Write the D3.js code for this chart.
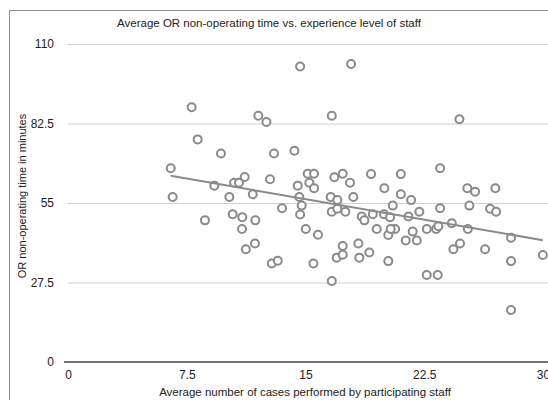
<!DOCTYPE html>
<html>
<head>
<meta charset="utf-8">
<script src="https://cdn.jsdelivr.net/npm/d3@7"></script>
<style>
  body { margin: 0; background: #fff; }
  svg text { font-family: "Liberation Sans", Arial, Helvetica, sans-serif; fill: #222; }
  .grid line { stroke: #d0d0d0; stroke-width: 1; }
  .dot { fill: #fff; stroke: #8a8a8a; stroke-width: 2; }
  .trend { stroke: #8a8a8a; stroke-width: 2; fill: none; }
</style>
</head>
<body>
<div id="chart"></div>
<script>
// chart text
var chartTitle = "Average OR non-operating time vs. experience level of staff";
var xTitle = "Average number of cases performed by participating staff";
var yTitle = "OR non-operating time in minutes";

var xTicks = [0, 7.5, 15, 22.5, 30];
var yTicks = [0, 27.5, 55, 82.5, 110];

// average cases per staff (x) and non-operating time (y)
var casesAvg = [
  7.81, 8.19, 9.66, 6.49, 9.24, 6.61, 10.19, 10.49, 10.8, 11.16,
  8.65, 10.4, 11.01, 10.99, 11.23, 11.67, 11.83, 11.81, 12.02, 12.53,
  13.01, 14.3, 12.76, 13.52, 12.87, 13.25, 14.66, 17.88, 16.66, 15.14,
  15.54, 14.51, 15.24, 15.54, 14.61, 14.76, 14.66, 15.02, 15.79, 15.5,
  16.82, 17.35, 17.81, 16.59, 17.01, 18.02, 16.66, 17.01, 17.52, 16.66,
  17.35, 16.97, 17.35, 18.34, 18.4, 19.03, 19.14, 19.98, 18.55, 18.72,
  19.25, 19.5, 19.96, 20.34, 20.51, 20.23, 20.66, 20.23, 24.72, 21.02,
  23.5, 25.22, 25.71, 26.99, 21.02, 21.67, 22.19, 23.5, 25.35, 26.66,
  27.04, 21.5, 21.77, 21.33, 22.03, 22.66, 23.25, 23.39, 24.24, 25.25,
  24.34, 24.76, 26.34, 27.98, 27.98, 29.99, 22.66, 23.35, 27.98, 20.38
];
var nonOpTime = [
  88.1, 77.0, 72.1, 67.0, 61.0, 57.1, 57.1, 62.0, 62.0, 64.0,
  49.0, 51.1, 50.1, 46.0, 39.0, 58.0, 49.0, 41.0, 85.2, 83.0,
  72.1, 73.1, 63.2, 53.2, 34.1, 35.0, 102.2, 103.1, 85.2, 65.1,
  65.1, 61.0, 62.0, 60.1, 57.1, 54.1, 51.0, 46.0, 44.0, 34.1,
  63.9, 65.1, 62.0, 57.1, 56.0, 57.1, 52.0, 53.0, 52.0, 28.0,
  40.1, 36.1, 37.1, 41.0, 36.1, 37.9, 65.0, 60.1, 50.3, 49.0,
  51.1, 46.0, 51.1, 50.1, 54.1, 43.9, 46.0, 34.9, 84.0, 65.0,
  67.0, 60.1, 58.9, 60.1, 58.0, 56.0, 52.0, 53.2, 54.1, 53.0,
  52.0, 50.3, 45.1, 42.0, 42.0, 46.0, 46.0, 47.0, 48.0, 46.0,
  39.0, 41.0, 39.0, 43.0, 34.9, 37.0, 30.1, 30.1, 18.0, 46.0
];

var width = 548, height = 400;
var plotLeft = 68, plotRight = 543, plotTop = 44, plotBottom = 362;

var svg = d3.select("#chart").append("svg")
    .attr("width", width)
    .attr("height", height);

// outer frame (runs off the right/bottom edge like the reference)
svg.append("rect")
   .attr("x", 9.5).attr("y", 10.5)
   .attr("width", 600).attr("height", 450)
   .attr("fill", "none")
   .attr("stroke", "#8c8c8c")
   .attr("stroke-width", 1);

var x = d3.scaleLinear().domain([0, 30]).range([plotLeft, plotRight]);
var y = d3.scaleLinear().domain([0, 110]).range([plotBottom, plotTop]);

// horizontal gridlines + y labels
var yAxis = svg.append("g")
    .attr("class", "grid")
    .attr("transform", "translate(" + plotLeft + ",0)")
    .call(d3.axisLeft(y)
      .tickValues(yTicks)
      .tickSize(-(width - plotLeft))
      .tickPadding(14)
      .tickFormat(function(d){ return String(d); }));

yAxis.select(".domain").remove();
yAxis.selectAll("text")
     .style("font-size", "12px")
     .attr("fill", "#222");
yAxis.selectAll(".tick").filter(function(d){ return d === 0; }).select("line").remove();

// x axis labels
var xAxis = svg.append("g")
    .attr("transform", "translate(0," + plotBottom + ")")
    .call(d3.axisBottom(x)
      .tickValues(xTicks)
      .tickSize(0)
      .tickPadding(8)
      .tickFormat(function(d){ return String(d); }));

xAxis.select(".domain").remove();
xAxis.selectAll("text")
     .style("font-size", "12px")
     .attr("fill", "#222");

// baseline at zero
svg.append("line")
   .attr("x1", plotLeft - 4).attr("x2", width)
   .attr("y1", y(0)).attr("y2", y(0))
   .attr("stroke", "#444")
   .attr("stroke-width", 1.5);

// least squares trend line from the data
var n = casesAvg.length;
var mx = d3.mean(casesAvg), my = d3.mean(nonOpTime);
var sxy = 0, sxx = 0;
for (var i = 0; i < n; i++) {
  sxy += (casesAvg[i] - mx) * (nonOpTime[i] - my);
  sxx += (casesAvg[i] - mx) * (casesAvg[i] - mx);
}
var slope = sxy / sxx, intercept = my - slope * mx;
var xExt = d3.extent(casesAvg);

var pts = casesAvg.map(function(d, i){ return [d, nonOpTime[i]]; });

svg.selectAll(".dot")
   .data(pts)
   .enter().append("circle")
   .attr("class", "dot")
   .attr("cx", function(d){ return x(d[0]); })
   .attr("cy", function(d){ return y(d[1]); })
   .attr("r", 4);

svg.append("line")
   .attr("class", "trend")
   .attr("x1", x(xExt[0])).attr("y1", y(slope * xExt[0] + intercept))
   .attr("x2", x(xExt[1])).attr("y2", y(slope * xExt[1] + intercept));

// titles
svg.append("text")
   .attr("x", 269).attr("y", 27)
   .attr("text-anchor", "middle")
   .style("font-size", "11.5px")
   .text(chartTitle);

svg.append("text")
   .attr("x", 305).attr("y", 396)
   .attr("text-anchor", "middle")
   .style("font-size", "11.5px")
   .text(xTitle);

svg.append("text")
   .attr("transform", "translate(26,196) rotate(-90)")
   .attr("text-anchor", "middle")
   .style("font-size", "11px")
   .text(yTitle);
</script>
</body>
</html>
